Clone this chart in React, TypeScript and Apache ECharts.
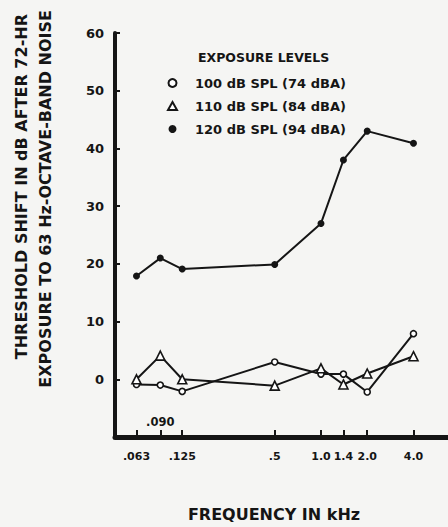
import React, { useEffect, useRef } from "react";
import * as echarts from "echarts";

const freqs = [0.063, 0.09, 0.125, 0.5, 1.0, 1.4, 2.0, 4.0];
const spl100 = [-0.9, -1.0, -2.1, 3.0, 0.9, 0.9, -2.2, 7.9];
const spl110 = [0, 4.1, 0, -1.1, 1.9, -0.9, 1.0, 4.0];
const spl120 = [17.9, 21.0, 19.1, 19.9, 27.0, 38.0, 43.0, 40.9];
const seriesNames = ["100 dB SPL (74 dBA)", "110 dB SPL (84 dBA)", "120 dB SPL (94 dBA)"];
const xTickValues = [0.063, 0.09, 0.125, 0.5, 1.0, 1.4, 2.0, 4.0];
const xLabelValues = [0.063, 0.125, 0.5, 1.0, 1.4, 2.0, 4.0];
const xLabelTexts = [".063", ".125", ".5", "1.0", "1.4", "2.0", "4.0"];
const xInnerLabelValues = [0.09];
const xInnerLabelTexts = [".090"];
const yTicks = [0, 10, 20, 30, 40, 50, 60];

const FONT = "DejaVu Sans";
const INK = "#151515";

function labelFor(values: number[], texts: string[]) {
  return (v: number) => {
    for (let i = 0; i < values.length; i++) {
      if (Math.abs(values[i] - v) / values[i] < 0.01) return texts[i];
    }
    return "";
  };
}

export default function App() {
  const ref = useRef<HTMLDivElement>(null);
  useEffect(() => {
    if (!ref.current) return;
    const chart = echarts.init(ref.current, null, { renderer: "svg" });
    const pairs = (vals: number[]) => freqs.map((f, i) => [f, vals[i]]);
    const xCommon = {
      type: "log" as const,
      logBase: 2,
      min: 0.04565,
      max: 6.71,
      splitLine: { show: false },
      minorTick: { show: false },
    };
    chart.setOption({
      animation: false,
      backgroundColor: "#f5f5f3",
      textStyle: { fontFamily: FONT, color: INK },
      grid: { left: 115, right: 0, top: 33, bottom: 86, containLabel: false },
      title: {
        text: "EXPOSURE LEVELS",
        left: 198,
        top: 51,
        padding: 0,
        textStyle: { fontFamily: FONT, fontSize: 12.5, fontWeight: "bold", color: INK },
      },
      legend: {
        orient: "vertical",
        left: 167,
        top: 76,
        itemWidth: 9,
        itemHeight: 8,
        itemGap: 9,
        padding: 0,
        textStyle: {
          fontFamily: FONT,
          fontSize: 13,
          fontWeight: "bold",
          color: INK,
          lineHeight: 14,
          padding: [0, 0, 0, 13],
        },
        data: [
          { name: seriesNames[0], icon: "circle", itemStyle: { color: "#fff", borderColor: INK, borderWidth: 2 } },
          { name: seriesNames[1], icon: "triangle", itemStyle: { color: "#fff", borderColor: INK, borderWidth: 2 } },
          { name: seriesNames[2], icon: "circle", itemStyle: { color: INK, borderColor: INK, borderWidth: 0 } },
        ],
      },
      xAxis: [
        {
          ...xCommon,
          axisLine: { show: true, onZero: false, lineStyle: { color: INK, width: 5 } },
          axisTick: { show: true, inside: true, length: 7, lineStyle: { color: INK, width: 2 }, customValues: xTickValues },
          axisLabel: {
            show: true,
            margin: 14,
            fontFamily: FONT,
            fontSize: 11,
            fontWeight: "bold",
            color: INK,
            customValues: xLabelValues,
            formatter: labelFor(xLabelValues, xLabelTexts),
          },
          name: "FREQUENCY IN kHz",
          nameLocation: "middle",
          nameGap: 69,
          nameTextStyle: { fontFamily: FONT, fontSize: 16, fontWeight: "bold", color: INK, padding: [0, 15, 0, 0] },
        },
        {
          ...xCommon,
          position: "bottom",
          axisLine: { show: false, onZero: false },
          axisTick: { show: false },
          axisLabel: {
            show: true,
            inside: true,
            margin: 9,
            fontFamily: FONT,
            fontSize: 11.5,
            fontWeight: "bold",
            color: INK,
            customValues: xInnerLabelValues,
            formatter: labelFor(xInnerLabelValues, xInnerLabelTexts),
          },
        },
      ],
      yAxis: {
        type: "value",
        min: -10,
        max: 60,
        interval: 10,
        splitLine: { show: false },
        axisLine: { show: true, onZero: false, lineStyle: { color: INK, width: 4 } },
        axisTick: { show: true, inside: true, length: 5, lineStyle: { color: INK, width: 2 }, customValues: yTicks },
        axisLabel: {
          margin: 11,
          fontFamily: FONT,
          fontSize: 13,
          fontWeight: "bold",
          color: INK,
          customValues: yTicks,
        },
      },
      graphic: [
        {
          type: "text",
          x: 21.5,
          y: 14,
          rotation: Math.PI / 2,
          style: {
            text: "THRESHOLD SHIFT IN dB AFTER 72-HR",
            font: `bold 16px "${FONT}"`,
            fill: INK,
            align: "right",
            verticalAlign: "middle",
          },
        },
        {
          type: "text",
          x: 45,
          y: 10,
          rotation: Math.PI / 2,
          style: {
            text: "EXPOSURE TO 63 Hz-OCTAVE-BAND NOISE",
            font: `bold 16px "${FONT}"`,
            fill: INK,
            align: "right",
            verticalAlign: "middle",
          },
        },
      ],
      series: [
        {
          name: seriesNames[0],
          type: "line",
          data: pairs(spl100),
          symbol: "circle",
          symbolSize: 6,
          itemStyle: { color: "#fff", borderColor: INK, borderWidth: 1.6 },
          lineStyle: { color: INK, width: 2 },
          z: 3,
        },
        {
          name: seriesNames[1],
          type: "line",
          data: pairs(spl110),
          symbol: "triangle",
          symbolSize: 9,
          itemStyle: { color: "#fff", borderColor: INK, borderWidth: 1.6 },
          lineStyle: { color: INK, width: 2 },
          z: 3,
        },
        {
          name: seriesNames[2],
          type: "line",
          data: pairs(spl120),
          symbol: "circle",
          symbolSize: 7,
          itemStyle: { color: INK, borderColor: INK, borderWidth: 0 },
          lineStyle: { color: INK, width: 2 },
          z: 3,
        },
      ],
    });
    return () => chart.dispose();
  }, []);
  return (
    <div
      ref={ref}
      style={{ position: "fixed", left: 0, top: 0, width: 448, height: 527 }}
    />
  );
}
